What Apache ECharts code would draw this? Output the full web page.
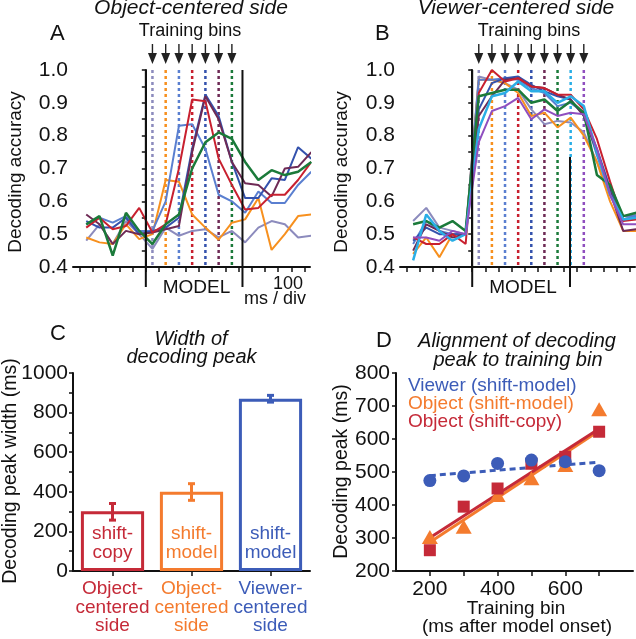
<!DOCTYPE html>
<html>
<head>
<meta charset="utf-8">
<script src="https://cdn.jsdelivr.net/npm/echarts@6.0.0/dist/echarts.min.js"></script>
<style>
html,body{margin:0;padding:0;background:#fff;}
#chart{width:636px;height:639px;}
</style>
</head>
<body>
<div id="chart"></div>
<script>
// ---------- shared time axis (divisions of 100 ms, 0 = model onset) ----------
const timeBins = [-4.5,-3.5,-2.5,-1.5,-0.5,0.5,1.5,2.5,3.5,4.5,5.5,6.5,7.5,8.5,9.5,10.5,11.5,12.5];
const divTicks = [-5,-4,-3,-2,-1,0,1,2,3,4,5,6,7,8,9,10,11,12];

// ---------- Panel A: object-centered side ----------
const aLavender = [0.48,0.53,0.47,0.54,0.50,0.455,0.52,0.495,0.51,0.515,0.49,0.51,0.475,0.52,0.54,0.53,0.49,0.495];
const aOrange   = [0.49,0.475,0.47,0.53,0.485,0.50,0.665,0.66,0.56,0.52,0.483,0.535,0.545,0.61,0.452,0.50,0.555,0.56];
const aBlue     = [0.53,0.55,0.535,0.555,0.51,0.51,0.60,0.83,0.835,0.76,0.62,0.60,0.565,0.63,0.595,0.595,0.65,0.69];
const aDarkBlue = [0.54,0.52,0.52,0.55,0.50,0.51,0.52,0.55,0.76,0.925,0.86,0.72,0.61,0.61,0.67,0.665,0.765,0.73];
const aMaroon   = [0.56,0.53,0.47,0.51,0.50,0.505,0.515,0.525,0.75,0.92,0.85,0.72,0.655,0.65,0.615,0.70,0.705,0.75];
const aRed      = [0.52,0.55,0.515,0.525,0.58,0.505,0.53,0.70,0.91,0.905,0.73,0.65,0.575,0.58,0.62,0.62,0.665,0.72];
const aGreen    = [0.53,0.555,0.435,0.565,0.51,0.47,0.53,0.56,0.70,0.78,0.81,0.79,0.72,0.665,0.695,0.68,0.69,0.72];
const trainBinsA = [0.5,1.5,2.5,3.5,4.5,5.5,6.5];
const modelEdgesA = [0, 7.3];

// ---------- Panel B: viewer-centered side ----------
const bLavender = [0.54,0.58,0.52,0.51,0.50,0.98,0.97,0.96,0.94,0.88,0.835,0.845,0.84,0.81,0.72,0.62,0.545,0.56];
const bOrange   = [0.44,0.49,0.43,0.50,0.50,0.97,0.97,0.96,0.93,0.86,0.87,0.825,0.855,0.80,0.72,0.60,0.51,0.51];
const bBlue     = [0.47,0.54,0.51,0.50,0.50,0.97,0.97,0.975,0.97,0.945,0.93,0.89,0.90,0.87,0.74,0.63,0.555,0.555];
const bDarkBlue = [0.48,0.52,0.50,0.50,0.50,0.88,0.96,0.975,0.98,0.955,0.935,0.92,0.91,0.86,0.76,0.64,0.545,0.55];
const bMaroon   = [0.45,0.53,0.51,0.49,0.50,0.86,0.92,0.97,0.975,0.95,0.945,0.925,0.91,0.86,0.75,0.63,0.51,0.515];
const bRed      = [0.49,0.47,0.47,0.50,0.47,0.93,1.0,0.965,0.975,0.95,0.945,0.925,0.925,0.88,0.79,0.66,0.54,0.545];
const bGreen    = [0.53,0.54,0.52,0.54,0.51,0.92,0.93,0.94,0.94,0.90,0.91,0.875,0.905,0.87,0.68,0.65,0.555,0.565];
const bCyan     = [0.42,0.56,0.51,0.48,0.50,0.82,0.92,0.93,0.965,0.935,0.935,0.90,0.92,0.89,0.75,0.62,0.545,0.55];
const bPurple   = [0.49,0.49,0.48,0.51,0.50,0.78,0.875,0.89,0.915,0.85,0.88,0.86,0.87,0.865,0.76,0.62,0.53,0.53];
const trainBinsB = [0.5,1.5,2.5,3.5,4.5,5.5,6.5,7.5,8.5];
const modelEdgesB = [0, 7.45];
const modelTopsB = [1.0, 0.735];

// ---------- Panel C: width of decoding peak ----------
const widthCategories = ['Object-\ncentered\nside','Object-\ncentered\nside','Viewer-\ncentered\nside'];
const widthBarLabels = ['shift-\ncopy','shift-\nmodel','shift-\nmodel'];
const widthValues = [302, 400, 870];
const widthErrLow = [257, 357, 853];
const widthErrHigh = [341, 441, 887];

// ---------- Panel D: alignment of decoding peak ----------
const trainingBinMs = [200,300,400,500,600,700];
const viewerPeak   = [474,488,526,536,531,504];
const objModelPeak = [303,334,430,481,521,690];
const objCopyPeak  = [263,395,450,525,546,622];
const fitEndsX     = [200,700];
const viewerFit    = [489,530];
const objModelFit  = [287,625];
const objCopyFit   = [301,631];

// ---------- styling ----------
const FONT = "'Liberation Sans', Arial, Helvetica, sans-serif";
const C_LAV = '#8c8bbd', C_ORA = '#f7901e', C_BLU = '#5a7fd0', C_DBL = '#3452ad',
      C_MAR = '#6e2a55', C_RED = '#c8202f', C_GRN = '#1b7a3a', C_CYA = '#2aaee6', C_PUR = '#8f4fbf';
const trainColorsA = [C_LAV, C_ORA, C_BLU, C_RED, C_DBL, C_MAR, C_GRN];
const trainColorsB = [C_LAV, C_ORA, C_BLU, C_RED, C_DBL, C_MAR, C_GRN, C_CYA, C_PUR];
const P_RED = '#c52a38', P_ORA = '#f47b2e', P_BLU = '#3c5cb8';
const INK = '#111';

const chart = echarts.init(document.getElementById('chart'), null, {renderer: 'canvas'});

function lineSeries(idx, arr, color, width) {
  return {
    type: 'line', xAxisIndex: idx, yAxisIndex: idx,
    data: timeBins.map((t, i) => [t, arr[i]]),
    symbol: 'none', smooth: false, z: 4,
    lineStyle: {color: color, width: width || 2},
    itemStyle: {color: color}, silent: true
  };
}

function trainSeries(idx, bins, colors) {
  return {
    type: 'custom', xAxisIndex: idx, yAxisIndex: idx, z: 2, clip: false, silent: true,
    data: bins.map((b, i) => [b, i]),
    renderItem: function (params, api) {
      const x = api.value(0), ci = api.value(1);
      const top = api.coord([x, 1.0]);
      const bot = api.coord([x, 0.4]);
      return {type: 'group', children: [
        {type: 'line', shape: {x1: top[0], y1: top[1], x2: bot[0], y2: bot[1]},
         style: {stroke: colors[ci], lineWidth: 2.5, lineDash: [3, 3]}},
        {type: 'line', shape: {x1: top[0], y1: top[1] - 26, x2: top[0], y2: top[1] - 14},
         style: {stroke: '#222', lineWidth: 1.4}},
        {type: 'polygon', shape: {points: [[top[0] - 4.5, top[1] - 17], [top[0] + 4.5, top[1] - 17], [top[0], top[1] - 6]]},
         style: {fill: '#222'}}
      ]};
    }
  };
}

function modelSeries(idx, edges, tops) {
  return {
    type: 'custom', xAxisIndex: idx, yAxisIndex: idx, z: 5, clip: false, silent: true,
    data: edges.map((e, i) => [e, tops[i]]),
    renderItem: function (params, api) {
      const top = api.coord([api.value(0), api.value(1)]);
      const bot = api.coord([api.value(0), 0.4]);
      return {type: 'line', shape: {x1: top[0], y1: top[1], x2: bot[0], y2: bot[1] + 20},
              style: {stroke: INK, lineWidth: 2}};
    }
  };
}

const axisLineStyle = {show: true, lineStyle: {color: INK, width: 2}};
const tickStyle = {lineStyle: {color: INK, width: 1.5}};

function accYAxis(idx) {
  return {
    type: 'value', gridIndex: idx, min: 0.4, max: 1.0, interval: 0.1,
    axisLine: axisLineStyle,
    axisTick: Object.assign({show: true, length: 4}, tickStyle),
    minorTick: {show: true, splitNumber: 2, length: 4, lineStyle: {color: INK, width: 1.5}},
    splitLine: {show: false}, minorSplitLine: {show: false},
    axisLabel: {fontFamily: FONT, fontSize: 21, color: INK, margin: 5,
                formatter: v => v.toFixed(1)}
  };
}
function timeXAxis(idx) {
  return {
    type: 'value', gridIndex: idx, min: -5.5, max: 12.4,
    axisLine: Object.assign({onZero: false}, axisLineStyle),
    axisTick: Object.assign({show: true, length: 5, customValues: divTicks}, tickStyle),
    axisLabel: {show: false}, splitLine: {show: false}
  };
}

function txt(text, x, y, size, opts) {
  opts = opts || {};
  return {
    type: 'text', x: x, y: y, rotation: opts.rot || 0, silent: true,
    style: {text: text, fill: opts.color || INK, font: (opts.italic ? 'italic ' : '') + size + 'px ' + FONT,
            align: opts.align || 'center', verticalAlign: 'middle', lineHeight: opts.lh || size}
  };
}

const graphics = [
  txt('Object-centered side', 191, 8, 21, {italic: true}),
  txt('Viewer-centered side', 516, 8, 21, {italic: true}),
  txt('A', 50, 34, 22, {align: 'left'}),
  txt('B', 375, 34, 22, {align: 'left'}),
  txt('Training bins', 190, 31, 18),
  txt('Training bins', 529, 31, 18),
  txt('MODEL', 196.5, 288, 19),
  txt('MODEL', 523, 288, 19),
  txt('100', 288, 284, 18),
  txt('ms / div', 275, 299, 18),
  txt('Decoding accuracy', 16, 172, 19, {rot: Math.PI / 2}),
  txt('Decoding accuracy', 342, 172, 19, {rot: Math.PI / 2}),
  txt('C', 50, 334, 22, {align: 'left'}),
  txt('Width of', 191, 339, 20, {italic: true}),
  txt('decoding peak', 191.5, 357, 20, {italic: true}),
  txt('Decoding peak width (ms)', 11, 471, 19.5, {rot: Math.PI / 2}),
  txt('D', 376, 341, 22, {align: 'left'}),
  txt('Alignment of decoding', 517, 341, 20, {italic: true}),
  txt('peak to training bin', 518, 360, 20, {italic: true}),
  txt('Viewer (shift-model)', 408, 385.5, 19, {align: 'left', color: P_BLU}),
  txt('Object (shift-model)', 408, 404, 19, {align: 'left', color: P_ORA}),
  txt('Object (shift-copy)', 408, 422, 19, {align: 'left', color: P_RED}),
  txt('Decoding peak (ms)', 341.5, 471.5, 19.5, {rot: Math.PI / 2}),
  txt('Training bin', 516, 608.5, 19),
  txt('(ms after model onset)', 517, 626.5, 19)
];

const catColors = [P_RED, P_ORA, P_BLU];

const option = {
  animation: false,
  backgroundColor: '#fff',
  textStyle: {fontFamily: FONT},
  grid: [
    {left: 73, top: 70, width: 237, height: 197},
    {left: 400, top: 70, width: 235, height: 197},
    {left: 73, top: 373, width: 237, height: 198},
    {left: 396, top: 373, width: 237, height: 198}
  ],
  xAxis: [
    timeXAxis(0),
    timeXAxis(1),
    {
      type: 'category', gridIndex: 2,
      data: widthCategories.map((c, i) => ({value: c, textStyle: {color: catColors[i]}})),
      axisLine: axisLineStyle,
      axisTick: Object.assign({show: true, length: 5, alignWithLabel: true}, tickStyle),
      axisLabel: {fontFamily: FONT, fontSize: 19, lineHeight: 18.5, margin: 9, interval: 0}
    },
    {
      type: 'value', gridIndex: 3, min: 100, max: 800,
      axisLine: Object.assign({onZero: false}, axisLineStyle),
      axisTick: Object.assign({show: true, length: 5, customValues: [200, 300, 400, 500, 600, 700]}, tickStyle),
      axisLabel: {fontFamily: FONT, fontSize: 21, color: INK, margin: 8, customValues: [200, 400, 600]},
      splitLine: {show: false}
    }
  ],
  yAxis: [
    accYAxis(0),
    accYAxis(1),
    {
      type: 'value', gridIndex: 2, min: 0, max: 1000, interval: 200,
      axisLine: axisLineStyle,
      axisTick: Object.assign({show: true, length: 4}, tickStyle),
      minorTick: {show: true, splitNumber: 2, length: 4, lineStyle: {color: INK, width: 1.5}},
      splitLine: {show: false}, minorSplitLine: {show: false},
      axisLabel: {fontFamily: FONT, fontSize: 21, color: INK, margin: 5, formatter: v => String(v)}
    },
    {
      type: 'value', gridIndex: 3, min: 200, max: 800, interval: 100,
      axisLine: Object.assign({onZero: false}, axisLineStyle),
      axisTick: Object.assign({show: true, length: 4}, tickStyle),
      splitLine: {show: false},
      axisLabel: {fontFamily: FONT, fontSize: 21, color: INK, margin: 6, formatter: v => String(v)}
    }
  ],
  graphic: graphics,
  series: [
    trainSeries(0, trainBinsA, trainColorsA),
    lineSeries(0, aLavender, C_LAV),
    lineSeries(0, aOrange, C_ORA),
    lineSeries(0, aBlue, C_BLU),
    lineSeries(0, aDarkBlue, C_DBL),
    lineSeries(0, aMaroon, C_MAR),
    lineSeries(0, aRed, C_RED),
    lineSeries(0, aGreen, C_GRN, 2.5),
    modelSeries(0, modelEdgesA, [1.0, 1.0]),

    trainSeries(1, trainBinsB, trainColorsB),
    lineSeries(1, bLavender, C_LAV),
    lineSeries(1, bOrange, C_ORA),
    lineSeries(1, bBlue, C_BLU),
    lineSeries(1, bDarkBlue, C_DBL),
    lineSeries(1, bMaroon, C_MAR),
    lineSeries(1, bRed, C_RED),
    lineSeries(1, bGreen, C_GRN, 2.5),
    lineSeries(1, bCyan, C_CYA, 2.5),
    lineSeries(1, bPurple, C_PUR),
    modelSeries(1, modelEdgesB, modelTopsB),

    {
      type: 'bar', xAxisIndex: 2, yAxisIndex: 2, barWidth: '80%', silent: true,
      data: widthValues.map((v, i) => ({
        value: v,
        itemStyle: {color: '#fff', borderColor: catColors[i], borderWidth: 3},
        label: {show: true, position: 'insideBottom', distance: 9, formatter: widthBarLabels[i],
                color: catColors[i], fontFamily: FONT, fontSize: 19, lineHeight: 18.5}
      }))
    },
    {
      type: 'custom', xAxisIndex: 2, yAxisIndex: 2, z: 5, silent: true,
      data: widthValues.map((v, i) => [i, widthErrLow[i], widthErrHigh[i]]),
      encode: {x: 0, y: [1, 2]},
      renderItem: function (params, api) {
        const lo = api.coord([api.value(0), api.value(1)]);
        const hi = api.coord([api.value(0), api.value(2)]);
        const col = catColors[params.dataIndex];
        const st = {stroke: col, lineWidth: 3};
        return {type: 'group', children: [
          {type: 'line', shape: {x1: lo[0], y1: lo[1], x2: hi[0], y2: hi[1]}, style: st},
          {type: 'line', shape: {x1: lo[0] - 3.5, y1: lo[1], x2: lo[0] + 3.5, y2: lo[1]}, style: st},
          {type: 'line', shape: {x1: hi[0] - 3.5, y1: hi[1], x2: hi[0] + 3.5, y2: hi[1]}, style: st}
        ]};
      }
    },

    {
      type: 'line', xAxisIndex: 3, yAxisIndex: 3, symbol: 'none', silent: true, z: 2,
      data: fitEndsX.map((x, i) => [x, viewerFit[i]]),
      lineStyle: {color: P_BLU, width: 3, type: [6, 4]}
    },
    {
      type: 'line', xAxisIndex: 3, yAxisIndex: 3, symbol: 'none', silent: true, z: 2,
      data: fitEndsX.map((x, i) => [x, objModelFit[i]]),
      lineStyle: {color: P_ORA, width: 3}
    },
    {
      type: 'line', xAxisIndex: 3, yAxisIndex: 3, symbol: 'none', silent: true, z: 2,
      data: fitEndsX.map((x, i) => [x, objCopyFit[i]]),
      lineStyle: {color: P_RED, width: 3}
    },
    {
      type: 'scatter', xAxisIndex: 3, yAxisIndex: 3, symbol: 'triangle', symbolSize: [16, 14], z: 3, silent: true,
      data: trainingBinMs.map((x, i) => [x, objModelPeak[i]]), itemStyle: {color: P_ORA, opacity: 1}
    },
    {
      type: 'scatter', xAxisIndex: 3, yAxisIndex: 3, symbol: 'rect', symbolSize: 12, z: 4, silent: true,
      data: trainingBinMs.map((x, i) => [x, objCopyPeak[i]]), itemStyle: {color: P_RED, opacity: 1}
    },
    {
      type: 'scatter', xAxisIndex: 3, yAxisIndex: 3, symbol: 'circle', symbolSize: 13, z: 5, silent: true,
      data: trainingBinMs.map((x, i) => [x, viewerPeak[i]]), itemStyle: {color: P_BLU, opacity: 1}
    }
  ]
};

chart.setOption(option);
</script>
</body>
</html>
